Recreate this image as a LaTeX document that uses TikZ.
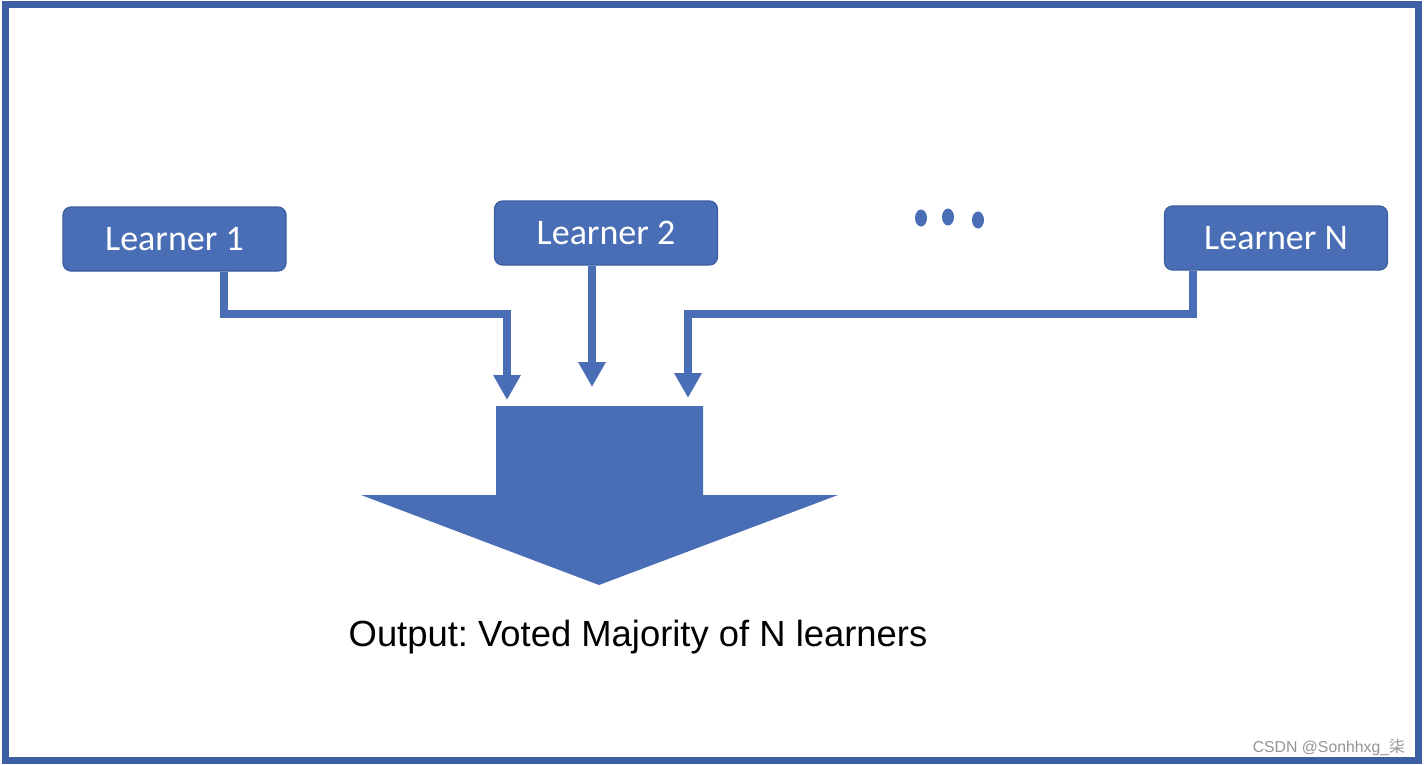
\documentclass[tikz,border=0pt]{standalone}
\usepackage{fontspec}
\setmainfont{Liberation Sans}
\newfontfamily\calibrifont{Carlito}
\newfontfamily\cjkfont{Noto Sans CJK SC}
\usetikzlibrary{arrows.meta}
\frenchspacing
\definecolor{officeblue}{HTML}{4A6EB6}
\definecolor{boxedge}{HTML}{3A5E9F}
\definecolor{frameblue}{HTML}{3D5FA4}
\tikzset{
  learner/.style={draw=boxedge, line width=0.6pt, fill=officeblue, rounded corners=4pt,
    minimum width=111.5pt, minimum height=32pt, inner sep=0pt, text=white,
    font=\calibrifont\fontsize{18}{20}\selectfont},
  conn/.style={draw=officeblue, line width=4pt, -{Triangle[length=12.5pt,width=13pt]}},
  dot/.style={fill=officeblue, draw=none},
}
\begin{document}
\begin{tikzpicture}[x=0.5pt,y=-0.5pt]
\useasboundingbox (0,0) rectangle (1425,765);
\fill[white] (0,0) rectangle (1425,765);
\draw[frameblue, line width=3.5pt] (5,5) rectangle (1418,760);

\node[learner] (l1) at (174.5,239) {Learner 1};
\node[learner] (l2) at (606,233) {Learner 2};
\node[learner] (ln) at (1276,238) {Learner N};

\fill[dot] (921,218) ellipse [x radius=6, y radius=8.5];
\fill[dot] (948,217) ellipse [x radius=6, y radius=8.5];
\fill[dot] (978,220) ellipse [x radius=6, y radius=8.5];

\coordinate (j1) at (507,314);
\coordinate (t1) at (507,400);
\coordinate (t2) at (592,387);
\coordinate (j3) at (688,314);
\coordinate (t3) at (688,398);

\draw[conn] ([xshift=24.75pt]l1.south) |- (j1) -- (t1);
\draw[conn] ([xshift=-7pt]l2.south) -- (t2);
\draw[conn] ([xshift=-41.5pt]ln.south) |- (j3) -- (t3);

\fill[officeblue] (496,406) coordinate (bigA) -- (703,406) -- (703,495) -- (838,495)
  -- (599,585) coordinate (bigtip) -- (361,495) -- (496,495) -- cycle;

\node[font=\fontsize{18.2}{20}\selectfont, anchor=base] (out) at (638,646) {Output: Voted Majority of N learners};

\node[font=\fontsize{7.9}{9}\selectfont, text=black!42, anchor=base east] (wm) at (1412,752) {CSDN @Sonhhxg\_{\cjkfont 柒}};
\end{tikzpicture}
\end{document}
